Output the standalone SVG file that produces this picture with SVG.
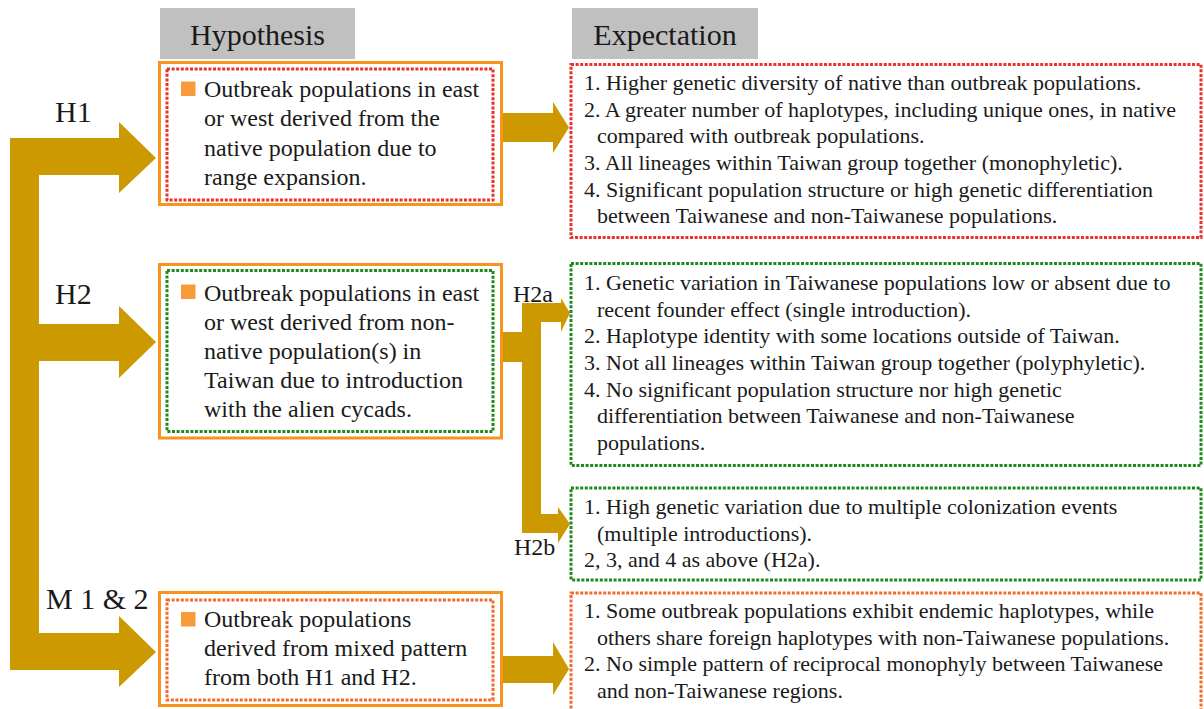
<svg xmlns="http://www.w3.org/2000/svg" width="1204" height="709" viewBox="0 0 1204 709">
<style>
.hdr{fill:#c0c0c0}
.htxt{font-family:"Liberation Serif","Times New Roman",serif;font-size:30px;fill:#1a1a1a}
.lbl{font-family:"Liberation Serif","Times New Roman",serif;font-size:30px;fill:#1a1a1a}
.slbl{font-family:"Liberation Serif","Times New Roman",serif;font-size:24px;fill:#1a1a1a}
.hyp{font-family:"Liberation Serif","Times New Roman",serif;font-size:24px;fill:#1a1a1a}
.exp{font-family:"Liberation Serif","Times New Roman",serif;font-size:22px;fill:#1a1a1a}
.outer{fill:#fff;stroke:#f7941d;stroke-width:3}
.dot{fill:none;stroke-width:3;stroke-dasharray:3 1.6}
.red{stroke:#e8322b}
.green{stroke:#1e8a1e}
.org{stroke:#f26b2e}
.bul{fill:#f79a3a}
.arrow{fill:#cc9900}
</style>
<rect width="1204" height="709" fill="#fff"/>
<g id="connectors">
<path class="arrow" d="M10,138 L119,138 L119,122 L156,158 L119,193 L119,175 L39,175 L39,324 L119,324 L119,306 L156,342 L119,378 L119,361 L39,361 L39,633 L119,633 L119,616 L156,652 L119,687 L119,670 L10,670 Z"/>
<path class="arrow" d="M503,113 L553,113 L553,102 L569,127.5 L553,153 L553,142 L503,142 Z"/>
<path class="arrow" d="M502,332 L522,332 L522,303 L561,303 L561,298 L570,313 L561,332 L561,322 L541,322 L541,514 L558,514 L558,507 L570,524 L558,543 L558,533 L522,533 L522,362 L502,362 Z"/>
<path class="arrow" d="M503,656 L553,656 L553,642 L569,669 L553,695 L553,683 L503,683 Z"/>
</g>
<g id="headers">
<rect class="hdr" x="160" y="8" width="195" height="51"/>
<text class="htxt" x="257.5" y="45" text-anchor="middle">Hypothesis</text>
<rect class="hdr" x="572" y="8" width="186" height="51"/>
<text class="htxt" x="665" y="45" text-anchor="middle">Expectation</text>
</g>
<g id="labels">
<text class="lbl" x="55" y="122">H1</text>
<text class="lbl" x="55" y="304">H2</text>
<text class="lbl" x="46" y="609">M 1 &amp; 2</text>
<text class="slbl" x="513" y="302">H2a</text>
<text class="slbl" x="514" y="555">H2b</text>
</g>
<g id="hyp-h1">
<rect class="outer" x="159.5" y="62.5" width="342" height="142"/>
<rect class="dot red" x="167" y="69" width="326" height="131"/>
<rect class="bul" x="181" y="81.5" width="14.5" height="14.5"/>
<text class="hyp" x="204"><tspan x="204" y="97">Outbreak populations in east</tspan><tspan x="204" y="126.3">or west derived from the</tspan><tspan x="204" y="155.6">native population due to</tspan><tspan x="204" y="185">range expansion.</tspan></text>
</g>
<g id="hyp-h2">
<rect class="outer" x="159.5" y="264.5" width="342" height="173.5"/>
<rect class="dot green" x="167" y="270.5" width="326" height="161"/>
<rect class="bul" x="181" y="284.5" width="14.5" height="14.5"/>
<text class="hyp" x="204"><tspan x="204" y="300.5">Outbreak populations in east</tspan><tspan x="204" y="329.6">or west derived from non-</tspan><tspan x="204" y="358.7">native population(s) in</tspan><tspan x="204" y="387.8">Taiwan due to introduction</tspan><tspan x="204" y="416.9">with the alien cycads.</tspan></text>
</g>
<g id="hyp-m">
<rect class="outer" x="159.5" y="592.5" width="342" height="113"/>
<rect class="dot org" x="167" y="600" width="326" height="100"/>
<rect class="bul" x="181" y="612" width="14.5" height="14.5"/>
<text class="hyp" x="204"><tspan x="204" y="627">Outbreak populations</tspan><tspan x="204" y="656">derived from mixed pattern</tspan><tspan x="204" y="685">from both H1 and H2.</tspan></text>
</g>
<g id="exp-h1">
<rect class="dot red" x="571" y="64.5" width="630" height="173"/>
<text class="exp"><tspan x="584" y="90">1. Higher genetic diversity of native than outbreak populations.</tspan><tspan x="584" y="116.7">2. A greater number of haplotypes, including unique ones, in native</tspan><tspan x="597" y="143.3">compared with outbreak populations.</tspan><tspan x="584" y="170">3. All lineages within Taiwan group together (monophyletic).</tspan><tspan x="584" y="196.7">4. Significant population structure or high genetic differentiation</tspan><tspan x="597" y="223.3">between Taiwanese and non-Taiwanese populations.</tspan></text>
</g>
<g id="exp-h2a">
<rect class="dot green" x="571" y="263.5" width="630" height="202"/>
<text class="exp"><tspan x="584" y="290">1. Genetic variation in Taiwanese populations low or absent due to</tspan><tspan x="597" y="316.7">recent founder effect (single introduction).</tspan><tspan x="584" y="343.3">2. Haplotype identity with some locations outside of Taiwan.</tspan><tspan x="584" y="370">3. Not all lineages within Taiwan group together (polyphyletic).</tspan><tspan x="584" y="396.7">4. No significant population structure nor high genetic</tspan><tspan x="597" y="423.3">differentiation between Taiwanese and non-Taiwanese</tspan><tspan x="597" y="450">populations.</tspan></text>
</g>
<g id="exp-h2b">
<rect class="dot green" x="571" y="488" width="630" height="92"/>
<text class="exp"><tspan x="584" y="514">1. High genetic variation due to multiple colonization events</tspan><tspan x="597" y="540.7">(multiple introductions).</tspan><tspan x="584" y="567.3">2, 3, and 4 as above (H2a).</tspan></text>
</g>
<g id="exp-m">
<rect class="dot org" x="571" y="593" width="630" height="120"/>
<text class="exp"><tspan x="584" y="618">1. Some outbreak populations exhibit endemic haplotypes, while</tspan><tspan x="597" y="644.7">others share foreign haplotypes with non-Taiwanese populations.</tspan><tspan x="584" y="671.3">2. No simple pattern of reciprocal monophyly between Taiwanese</tspan><tspan x="597" y="698">and non-Taiwanese regions.</tspan></text>
</g>
</svg>
